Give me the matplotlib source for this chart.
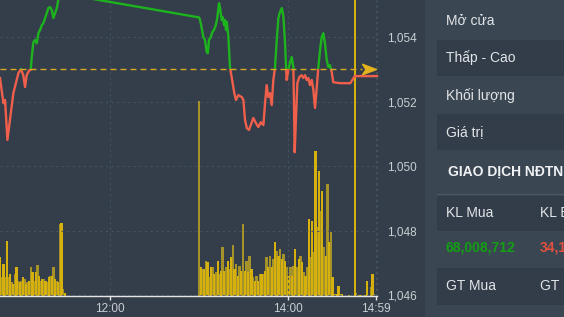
import numpy as np
import matplotlib
matplotlib.use("Agg")
import matplotlib.pyplot as plt
from matplotlib.patches import Rectangle
from matplotlib.path import Path

# index line (minutes since midnight, points)
price_time = [645.8, 648.1, 649.2, 650.8, 654.8, 658.2, 659.8, 661.5, 662.7, 663.8,
              665.6, 666.5, 667.2, 668.3, 669.4, 670.6, 671.7, 672.8, 674.0, 675.0,
              676.2, 677.3, 678.4, 679.6, 680.7, 681.8, 682.9, 684.1, 685.1, 687.0,
              688.3, 690.0,
              780.0, 780.7, 781.8, 782.9, 784.0, 785.2, 785.9, 786.7, 787.9, 789.0,
              790.1, 791.3, 792.3, 793.5, 794.2, 795.3, 796.0, 796.9, 797.5, 798.2,
              798.7, 799.8, 800.9, 802.0, 803.8, 804.9, 806.5, 808.8, 809.9, 811.0,
              812.2, 813.7, 814.9, 816.6, 818.4, 820.0, 821.6, 823.4, 824.5, 825.6,
              826.7, 827.9, 829.0, 830.1, 831.2, 832.4, 833.5, 834.6, 835.8, 836.8,
              838.0, 838.7, 839.1, 840.2, 841.3, 842.5, 843.6, 844.0, 844.5, 845.4,
              846.3, 847.6, 849.2, 850.3, 851.5, 852.6, 853.7, 854.8, 856.0, 857.1,
              858.2, 859.4, 860.4, 861.6, 862.7, 863.8, 864.9, 866.1, 867.2, 868.3,
              869.5, 870.5, 875.1, 882.0, 885.0, 900.0]
price_val = [1052.73, 1051.95, 1052.05, 1050.81, 1052.26, 1052.88, 1053.01, 1052.82, 1052.45, 1052.82,
             1052.98, 1052.98, 1053.38, 1053.84, 1053.91, 1053.81, 1054.12, 1054.22, 1054.37, 1054.43,
             1054.59, 1054.74, 1054.90, 1054.93, 1054.84, 1054.59, 1054.74, 1054.90, 1055.15, 1055.27,
             1055.36, 1055.33,
             1054.61, 1054.53, 1054.28, 1054.00, 1053.91, 1053.53, 1053.50, 1053.91, 1054.00, 1054.16,
             1054.22, 1054.37, 1054.59, 1055.05, 1054.90, 1054.53, 1054.62, 1054.37, 1054.53, 1054.22,
             1054.47, 1054.00, 1053.04, 1052.76, 1052.26, 1052.05, 1052.20, 1052.14, 1052.05, 1051.43,
             1051.18, 1051.12, 1051.27, 1051.49, 1051.33, 1051.21, 1051.36, 1051.27, 1051.95, 1052.51,
             1052.14, 1052.26, 1051.89, 1052.67, 1053.04, 1053.91, 1054.59, 1054.78, 1054.90, 1054.68,
             1053.81, 1053.04, 1052.67, 1052.98, 1053.19, 1053.38, 1053.07, 1052.05, 1050.43, 1051.52,
             1052.57, 1052.76, 1052.82, 1052.73, 1052.82, 1052.67, 1052.73, 1052.51, 1052.67, 1052.36,
             1051.80, 1052.45, 1053.04, 1053.60, 1054.00, 1054.12, 1053.81, 1053.29, 1053.07, 1053.13,
             1052.91, 1052.60, 1052.57, 1052.57, 1052.79, 1052.79]
ref_price = 1053.0

# volume bars (arbitrary units)
vol_morning = [388, 188, 322, 188, 555, 188, 222, 138, 122, 222, 295, 155, 138, 155, 188, 172,
               122, 138, 155, 295, 238, 155, 238, 315, 205, 155, 172, 172, 155, 138, 188, 205,
               205, 288, 172, 155, 138, 722, 728, 72, 28]
vol_afternoon = [1950, 286, 270, 270, 353, 336, 186, 286, 286, 220, 236, 353, 220, 253, 493, 253,
                 286, 346, 270, 386, 513, 270, 320, 203, 303, 253, 720, 253, 353, 236, 403,
                 270, 186, 153, 203, 153, 220, 220, 220, 253, 386, 286, 403, 286, 370, 536,
                 453, 403, 470, 370, 420, 353, 286, 203, 286, 203, 303, 470, 286, 370, 403,
                 336, 236, 203, 286, 770, 386, 753, 436, 1453, 686, 1253, 853, 1053, 486,
                 403, 1120, 536, 636, 193]
vol_tail_time = [871, 872, 873, 874, 875, 876, 881, 885]
vol_tail = [20, 20, 13, 103, 13, 20, 13, 3500]
vol_post = [26, 13, 10, 13, 10, 10, 10, 153, 10, 5, 86, 220, 20, 5]

xticks = [720, 840, 899]
xtick_labels = ["12:00", "14:00", "14:59"]
yticks = [1046, 1048, 1050, 1052, 1054]

bg = "#333e4a"
W, H = 564, 317
fig = plt.figure(figsize=(W / 100, H / 100), dpi=100, facecolor=bg)
plt.rcParams["font.family"] = ["Liberation Sans", "DejaVu Sans"]

axv = fig.add_axes([0, 21 / H, 377 / W, 296 / H])
ax = fig.add_axes([0, 21 / H, 377 / W, 296 / H], sharex=axv)
axv.set_zorder(0)
ax.set_zorder(1)
for a in (ax, axv):
    a.patch.set_visible(False)

# volume: darker bars behind, bright bars in front
t_m = np.linspace(646, 689.5, len(vol_morning))
t_a = np.linspace(780, 870, len(vol_afternoon))
t_p = np.arange(886, 886 + len(vol_post))
bar_t = np.concatenate([t_m, t_a, vol_tail_time, t_p])
bar_v = np.concatenate([vol_morning, vol_afternoon, vol_tail, vol_post])
axv.bar(bar_t[1::2], bar_v[1::2], width=1.7, color="#a59229", linewidth=0, zorder=1)
axv.bar(bar_t[0::2], bar_v[0::2], width=1.5, color="#d6b00c", linewidth=0, zorder=2)
axv.set_ylim(0, 2960)
axv.set_yticks([])
axv.tick_params(axis="x", which="both", length=0, labelbottom=False)
for s in axv.spines.values():
    s.set_visible(False)

# price line, green above reference, red below
for color, y0 in (("#1db31d", ref_price), ("#ef5f4b", ref_price - 100)):
    ln, = ax.plot(price_time, price_val, color=color, lw=1.7, solid_joinstyle="round")
    ln.set_clip_path(Rectangle((600, y0), 400, 100, transform=ax.transData))

x0, x1 = 645.8, 900.0
ax.set_xlim(x0, x1)
ax.set_ylim(1045.97, 1055.15)
ax.axhline(ref_price, xmax=0.96, color="#d9a823", lw=1.0, dashes=(4.3, 2.9))
arrow = Path([(-1, -0.75), (1, 0), (-1, 0.75), (-0.5, 0), (-1, -0.75)],
             [Path.MOVETO, Path.LINETO, Path.LINETO, Path.LINETO, Path.CLOSEPOLY])
ax.plot([x1 - 5.5], [ref_price], marker=arrow, markersize=10, color="#e3b21c",
        linestyle="none", clip_on=False)

ax.yaxis.tick_right()
ax.set_yticks(yticks)
ax.set_yticklabels([f"{v:,}" for v in yticks])
ax.set_xticks(xticks)
ax.set_xticklabels(xtick_labels)
ax.tick_params(axis="y", length=0, pad=7, labelsize=8.5, labelcolor="#c9ced3")
ax.tick_params(axis="x", length=3, width=1, color="#e6e6e6", pad=2,
               labelsize=8.5, labelcolor="#c9ced3")
for k, s in ax.spines.items():
    s.set_visible(k == "bottom")
ax.spines["bottom"].set_color("#e6e6e6")
ax.spines["bottom"].set_linewidth(1.0)
ax.grid(True, color="#45515d", lw=0.8, linestyle=(0, (2, 3)))
ax.axvline(x1, color="#45515d", lw=0.8, linestyle=(0, (2, 3)), clip_on=False)

# right info panel
def box(x, y, w, h, c):
    fig.add_artist(Rectangle((x / W, 1 - (y + h) / H), w / W, h / H,
                             transform=fig.transFigure, color=c, lw=0))

def label(x, y, s, **kw):
    fig.text(x / W, 1 - y / H, s, va="center", ha="left", fontsize=10, **kw)

box(425, 0, W - 425, H, "#3a4652")
for y0, y1 in ((40, 76), (114, 150), (196, 231), (268, 305)):
    box(437, y0, W - 437, y1 - y0, "#323d49")
box(437, 194, W - 437, 1, "#4d5965")

label(446, 21, "Mở cửa", color="#e2e5e8")
label(446, 58, "Thấp - Cao", color="#e2e5e8")
label(446, 96, "Khối lượng", color="#e2e5e8")
label(446, 132, "Giá trị", color="#e2e5e8")
label(448, 172, "GIAO DỊCH NĐTNN", color="#f0f2f4", fontweight="bold")
label(446, 213, "KL Mua", color="#e2e5e8")
label(540, 213, "KL Bán", color="#e2e5e8")
label(446, 248, "68,008,712", color="#12a012", fontweight="bold")
label(540, 248, "34,1", color="#e2513f", fontweight="bold")
label(446, 286, "GT Mua", color="#e2e5e8")
label(540, 286, "GT Bán", color="#e2e5e8")

fig.savefig("out.png", dpi=100, facecolor=bg)
